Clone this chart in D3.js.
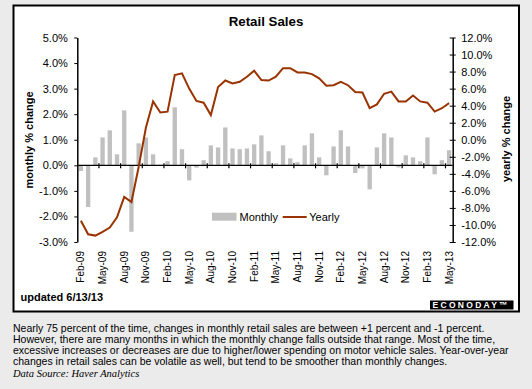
<!DOCTYPE html>
<html>
<head>
<meta charset="utf-8">
<script src="https://cdn.jsdelivr.net/npm/d3@7"></script>
<style>
  html, body { margin: 0; padding: 0; background: #ebebeb; }
  svg { display: block; font-family: Arial, "Liberation Sans", sans-serif; }
</style>
</head>
<body>
<div id="chart"></div>
<script>
const months = [
  "Feb-09","Mar-09","Apr-09","May-09","Jun-09","Jul-09","Aug-09","Sep-09","Oct-09","Nov-09","Dec-09",
  "Jan-10","Feb-10","Mar-10","Apr-10","May-10","Jun-10","Jul-10","Aug-10","Sep-10","Oct-10","Nov-10","Dec-10",
  "Jan-11","Feb-11","Mar-11","Apr-11","May-11","Jun-11","Jul-11","Aug-11","Sep-11","Oct-11","Nov-11","Dec-11",
  "Jan-12","Feb-12","Mar-12","Apr-12","May-12","Jun-12","Jul-12","Aug-12","Sep-12","Oct-12","Nov-12","Dec-12",
  "Jan-13","Feb-13","Mar-13","Apr-13","May-13"
];

// monthly % change (left axis)
const monthly = [
  -0.22, -1.63, 0.31, 1.09, 1.37, 0.43, 2.15, -2.60, 0.86, 1.09, 0.43,
  0.02, 0.16, 2.27, 0.63, -0.59, -0.09, 0.20, 0.78, 0.70, 1.48, 0.66, 0.63,
  0.66, 0.82, 1.17, 0.55, 0.08, 0.78, 0.27, 0.12, 0.78, 1.25, 0.31, -0.39,
  0.74, 1.37, 0.74, -0.30, -0.12, -0.94, 0.70, 1.25, 1.09, -0.08, 0.39, 0.31,
  0.16, 1.09, -0.35, 0.20, 0.59
];

// yearly % change (right axis)
const yearly = [
  -9.5, -11.1, -11.25, -10.8, -10.3, -9.1, -6.7, -7.3, -3.2, 1.4, 4.5,
  3.2, 3.3, 7.6, 7.8, 6.0, 4.55, 4.35, 2.9, 6.2, 6.95, 6.6, 6.8,
  7.4, 8.1, 7.0, 6.95, 7.4, 8.4, 8.4, 7.9, 7.9, 7.7, 7.2, 6.35,
  6.4, 6.8, 6.4, 5.6, 5.55, 3.7, 4.15, 5.4, 5.65, 4.5, 4.5, 5.2,
  4.5, 4.35, 3.3, 3.7, 4.3
];

const leftTicks = [-3, -2, -1, 0, 1, 2, 3, 4, 5];
const rightTicks = [-12, -10, -8, -6, -4, -2, 0, 2, 4, 6, 8, 10, 12];

const notes = [
  "Nearly 75 percent of the time, changes in monthly retail sales are between +1 percent and -1 percent.",
  "However, there are many months in which the monthly change falls outside that range. Most of the time,",
  "excessive increases or decreases are due to higher/lower spending on motor vehicle sales. Year-over-year",
  "changes in retail sales can be volatile as well, but tend to be smoother than monthly changes."
];

const W = 532, H = 389;
const plot = { left: 77.3, right: 452.7, top: 37.5, bottom: 242 };
const barColor = "#c0c0c0";
const lineColor = "#993300";

const svg = d3.select("#chart").append("svg")
  .attr("width", W)
  .attr("height", H);

svg.append("rect")
  .attr("width", W).attr("height", H)
  .attr("fill", "#ebebeb");

// chart frame
svg.append("rect")
  .attr("x", 13.5).attr("y", 5.5)
  .attr("width", 505.5).attr("height", 306)
  .attr("fill", "#fff")
  .attr("stroke", "#000")
  .attr("stroke-width", 2);

svg.append("text")
  .attr("x", 266).attr("y", 26)
  .attr("text-anchor", "middle")
  .style("font-size", "13.3px")
  .style("font-weight", "bold")
  .text("Retail Sales");

const x = d3.scaleBand()
  .domain(months)
  .range([plot.left, plot.right])
  .paddingInner(0.4)
  .paddingOuter(0.2);

const yL = d3.scaleLinear().domain([-3, 5]).range([plot.bottom, plot.top]);
const yR = d3.scaleLinear().domain([-12, 12]).range([plot.bottom, plot.top]);

// bars
svg.append("g")
  .selectAll("rect")
  .data(monthly)
  .join("rect")
  .attr("x", (d, i) => x(months[i]))
  .attr("width", x.bandwidth())
  .attr("y", d => yL(Math.max(0, d)))
  .attr("height", d => Math.abs(yL(d) - yL(0)))
  .attr("fill", barColor);

// category axis on the zero line
const y0 = yL(0);
const xAxis = svg.append("g");
xAxis.append("line")
  .attr("x1", plot.left).attr("x2", plot.right)
  .attr("y1", y0).attr("y2", y0)
  .attr("stroke", "#000").attr("stroke-width", 1.2);

xAxis.selectAll(".xt")
  .data(months.filter((m, i) => i > 0 && i % 3 === 0))
  .join("line")
  .attr("class", "xt")
  .attr("x1", d => x(d) - x.step() * x.paddingInner() / 2)
  .attr("x2", d => x(d) - x.step() * x.paddingInner() / 2)
  .attr("y1", y0 - 2).attr("y2", y0 + 3)
  .attr("stroke", "#000").attr("stroke-width", 1.2);

svg.append("g")
  .selectAll("text")
  .data(months.filter((m, i) => i % 3 === 0))
  .join("text")
  .attr("transform", d => `translate(${x(d) + x.bandwidth() / 2},251) rotate(-90)`)
  .attr("dy", "0.35em")
  .attr("text-anchor", "end")
  .style("font-size", "10px")
  .text(d => d);

// left axis
const gL = svg.append("g")
  .attr("transform", `translate(${plot.left},0)`)
  .call(d3.axisLeft(yL)
    .tickValues(leftTicks)
    .tickFormat(d => d.toFixed(1) + "%")
    .tickSizeInner(3)
    .tickSizeOuter(0)
    .tickPadding(6.5));
gL.selectAll("text").style("font-size", "11px").style("font-family", "Arial, 'Liberation Sans', sans-serif");
gL.select(".domain").attr("stroke-width", 1.5);

// right axis
const gR = svg.append("g")
  .attr("transform", `translate(${plot.right},0)`)
  .call(d3.axisRight(yR)
    .tickValues(rightTicks)
    .tickFormat(d => d.toFixed(1) + "%")
    .tickSizeInner(3)
    .tickSizeOuter(0)
    .tickPadding(5.5));
gR.selectAll(".tick line").attr("x1", -3);
gR.selectAll("text").style("font-size", "11px").style("font-family", "Arial, 'Liberation Sans', sans-serif");
gR.select(".domain").attr("stroke-width", 1.5);

// yearly line
const line = d3.line()
  .x((d, i) => x(months[i]) + x.bandwidth() / 2)
  .y(d => yR(d));

svg.append("path")
  .datum(yearly)
  .attr("d", line)
  .attr("fill", "none")
  .attr("stroke", lineColor)
  .attr("stroke-width", 2);

// axis titles
svg.append("text")
  .attr("transform", "translate(32.5,140) rotate(-90)")
  .attr("text-anchor", "middle")
  .style("font-size", "11px")
  .style("font-weight", "bold")
  .text("monthly % change");

svg.append("text")
  .attr("transform", "translate(509.5,139) rotate(-90)")
  .attr("text-anchor", "middle")
  .style("font-size", "11px")
  .style("font-weight", "bold")
  .text("yearly % change");

// legend
const legend = svg.append("g");
legend.append("rect")
  .attr("x", 212).attr("y", 212.7)
  .attr("width", 24.5).attr("height", 8)
  .attr("fill", barColor);
legend.append("text")
  .attr("x", 239.5).attr("y", 221)
  .style("font-size", "11px")
  .text("Monthly");
legend.append("line")
  .attr("x1", 282.7).attr("x2", 306.7)
  .attr("y1", 217).attr("y2", 217)
  .attr("stroke", lineColor).attr("stroke-width", 2);
legend.append("text")
  .attr("x", 309.3).attr("y", 221)
  .style("font-size", "11px")
  .text("Yearly");

svg.append("text")
  .attr("x", 20.5).attr("y", 301)
  .style("font-size", "11px")
  .style("font-weight", "bold")
  .text("updated 6/13/13");

// logo
svg.append("rect")
  .attr("x", 430).attr("y", 300.5)
  .attr("width", 83.5).attr("height", 9)
  .attr("fill", "#000");
svg.append("text")
  .attr("x", 432.5).attr("y", 308.3)
  .style("font-size", "8.5px")
  .style("font-weight", "bold")
  .style("letter-spacing", "2.3px")
  .attr("fill", "#fff")
  .text("ECONODAY\u2122");

// footnote
svg.append("g")
  .selectAll("text")
  .data(notes)
  .join("text")
  .attr("x", 13)
  .attr("y", (d, i) => 331.5 + i * 11.3)
  .style("font-size", "10.5px")
  .text(d => d);

svg.append("text")
  .attr("x", 13).attr("y", 376.5)
  .style("font-family", "'Liberation Serif', 'Times New Roman', serif")
  .style("font-style", "italic")
  .style("font-size", "10.5px")
  .text("Data Source: Haver Analytics");
</script>
</body>
</html>
